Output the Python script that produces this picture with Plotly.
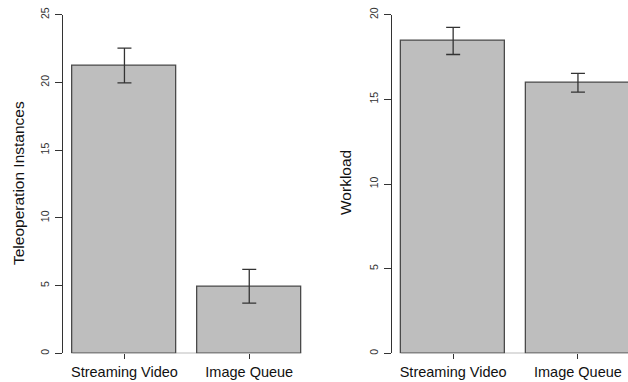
import plotly.graph_objects as go

categories = ["Streaming Video", "Image Queue"]
teleop_means = [21.25, 4.95]
teleop_err = [1.28, 1.25]
workload_means = [18.45, 15.98]
workload_err = [0.80, 0.55]
teleop_ticks = [0, 5, 10, 15, 20, 25]
workload_ticks = [0, 5, 10, 15, 20]

W, H = 628, 382
BAR_W = 1.0
SPACE = 0.2
centers = [SPACE + BAR_W / 2 + i * (BAR_W + SPACE) for i in range(len(categories))]
left_edge = centers[0] - BAR_W / 2
right_edge = centers[-1] + BAR_W / 2
span = right_edge - left_edge
xlo = left_edge - 0.04 * span
xhi = right_edge + 0.04 * span
px_per_unit = 104.0

FONT = "Liberation Sans, Arial, sans-serif"
FILL = "#bebebe"
EDGE = "#4a4a4a"
AX = "#333333"

def px2fx(p):
    return p / W

def py2fy(p):
    return (H - p) / H

top_px, bot_px = 14.7, 353.3
L_x0 = 63.3
L_x1 = L_x0 + (xhi - xlo) * px_per_unit
R_x0 = 392.0
R_x1 = 628.0
r_xhi = xlo + (R_x1 - R_x0) / px_per_unit

fig = go.Figure()

def add_panel(vals, errs, xa, ya):
    fig.add_trace(go.Bar(
        x=centers, y=vals, width=BAR_W,
        marker=dict(color=FILL, line=dict(color=EDGE, width=1.3)),
        error_y=dict(type="data", array=errs, visible=True, color=AX,
                     thickness=1.3, width=7),
        xaxis=xa, yaxis=ya, showlegend=False, hoverinfo="skip",
    ))
    fig.add_shape(type="line", xref=xa, yref=ya, x0=left_edge, x1=right_edge,
                  y0=0, y1=0, line=dict(color="#777777", width=1.3), layer="below")

add_panel(teleop_means, teleop_err, "x", "y")
add_panel(workload_means, workload_err, "x2", "y2")

xcommon = dict(tickmode="array", tickvals=centers, ticktext=categories,
               ticks="outside", ticklen=5, tickwidth=1, tickcolor=AX,
               showline=False, showgrid=False, zeroline=False,
               tickfont=dict(family=FONT, size=14.5, color="#111111"),
               automargin=False, fixedrange=True)
ycommon = dict(ticks="outside", ticklen=7, tickwidth=1, tickcolor=AX,
               showline=True, linecolor=AX, linewidth=1,
               showgrid=False, zeroline=False, tickangle=-90,
               tickfont=dict(family=FONT, size=10.5, color="#333333"),
               ticklabelstandoff=2,
               automargin=False, fixedrange=True)

fig.update_layout(
    width=W, height=H,
    margin=dict(l=0, r=0, t=0, b=0),
    plot_bgcolor="white", paper_bgcolor="white",
    bargap=0,
    xaxis=dict(domain=[px2fx(L_x0), px2fx(L_x1)], range=[xlo, xhi], anchor="y", **xcommon),
    yaxis=dict(domain=[py2fy(bot_px), py2fy(top_px)], range=[0, teleop_ticks[-1]],
               tickvals=teleop_ticks, anchor="x", **ycommon),
    xaxis2=dict(domain=[px2fx(R_x0), px2fx(R_x1)], range=[xlo, r_xhi], anchor="y2", **xcommon),
    yaxis2=dict(domain=[py2fy(bot_px), py2fy(top_px)], range=[0, workload_ticks[-1]],
                tickvals=workload_ticks, anchor="x2", **ycommon),
    annotations=[
        dict(text="Teleoperation Instances", xref="paper", yref="paper",
             x=px2fx(18), y=py2fy(183), textangle=-90, showarrow=False,
             font=dict(family=FONT, size=15.5, color="#111111"),
             xanchor="center", yanchor="middle"),
        dict(text="Workload", xref="paper", yref="paper",
             x=px2fx(345), y=py2fy(183), textangle=-90, showarrow=False,
             font=dict(family=FONT, size=15.5, color="#111111"),
             xanchor="center", yanchor="middle"),
    ],
)

fig.write_html("out.html", config={"displayModeBar": False},
               post_script="document.body.style.margin='0';document.body.style.overflow='hidden';")
